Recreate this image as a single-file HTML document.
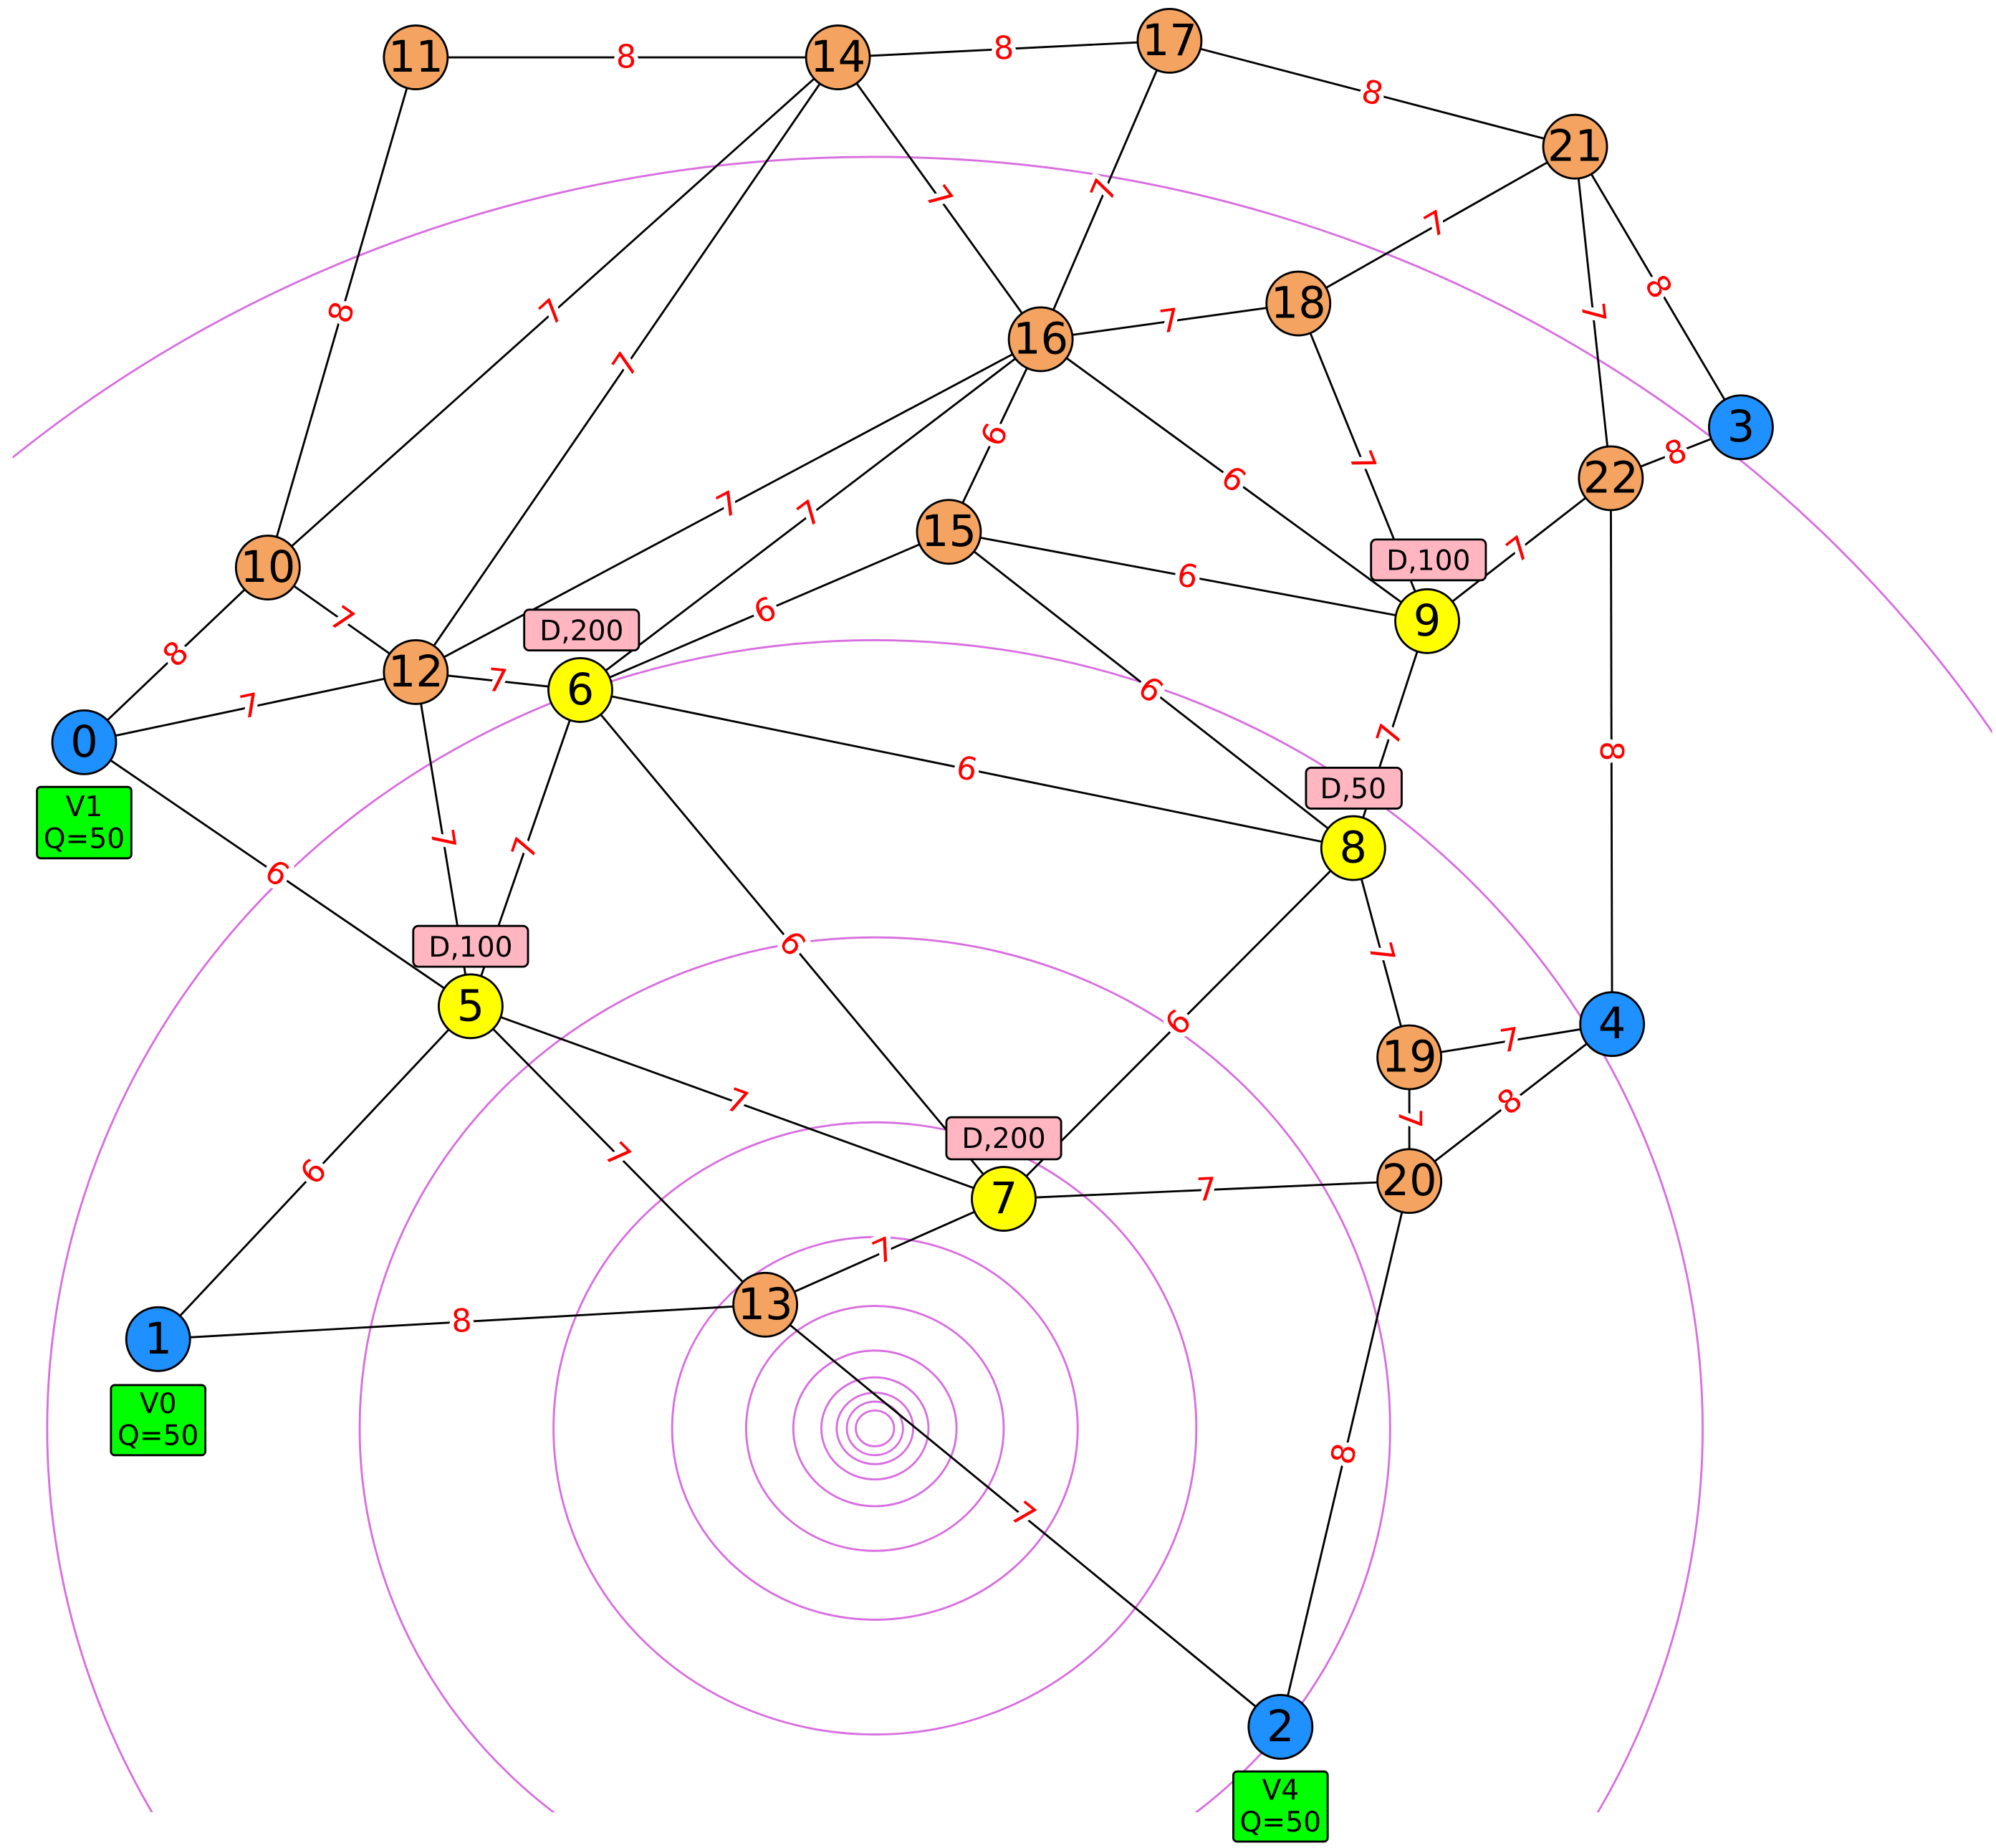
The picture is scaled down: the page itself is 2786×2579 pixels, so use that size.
<!DOCTYPE html>
<html><head><meta charset="utf-8"><style>
html,body{margin:0;padding:0;background:#fff;width:2786px;height:2579px;overflow:hidden}
svg{display:block;vertical-align:top}
text{font-family:"DejaVu Sans","Liberation Sans",sans-serif}
.e{stroke:#000;stroke-width:1.6}
.w{fill:#ff0000;font-size:25px;text-anchor:middle;dominant-baseline:central;stroke:#fff;stroke-width:7;paint-order:stroke}
.n{stroke:#000;stroke-width:1.6}
.nl{font-size:34px;text-anchor:middle;dominant-baseline:central;fill:#000}
.c{fill:none;stroke:#d86ee0;stroke-width:1.6}
.bt{font-size:22px;text-anchor:middle;fill:#000}
</style></head><body>
<svg width="2786" height="2579" viewBox="0 0 1565 1449" preserveAspectRatio="none" xmlns="http://www.w3.org/2000/svg">
<defs><clipPath id="cp"><rect x="10" y="0" width="1552" height="1421"/></clipPath></defs>
<g clip-path="url(#cp)">
<ellipse class="c" cx="686" cy="1120" rx="1047" ry="997"/>
<ellipse class="c" cx="686" cy="1120" rx="649" ry="618"/>
<ellipse class="c" cx="686" cy="1120" rx="404" ry="385"/>
<ellipse class="c" cx="686" cy="1120" rx="252" ry="240"/>
<ellipse class="c" cx="686" cy="1120" rx="159" ry="150"/>
<ellipse class="c" cx="686" cy="1120" rx="101" ry="96"/>
<ellipse class="c" cx="686" cy="1120" rx="64" ry="61"/>
<ellipse class="c" cx="686" cy="1120" rx="42" ry="40"/>
<ellipse class="c" cx="686" cy="1120" rx="30" ry="28"/>
<ellipse class="c" cx="686" cy="1120" rx="22" ry="21"/>
<ellipse class="c" cx="686" cy="1120" rx="15" ry="14"/>
</g>
<g class="e">
<line x1="326" y1="45" x2="657" y2="45"/>
<line x1="657" y1="45" x2="917" y2="32"/>
<line x1="917" y1="32" x2="1235" y2="115"/>
<line x1="326" y1="45" x2="210" y2="445"/>
<line x1="657" y1="45" x2="210" y2="445"/>
<line x1="657" y1="45" x2="326" y2="527"/>
<line x1="657" y1="45" x2="816" y2="266"/>
<line x1="917" y1="32" x2="816" y2="266"/>
<line x1="1235" y1="115" x2="1018" y2="238"/>
<line x1="1235" y1="115" x2="1263" y2="375"/>
<line x1="1235" y1="115" x2="1365" y2="335"/>
<line x1="816" y1="266" x2="1018" y2="238"/>
<line x1="816" y1="266" x2="326" y2="527"/>
<line x1="816" y1="266" x2="455" y2="541"/>
<line x1="816" y1="266" x2="744" y2="417"/>
<line x1="816" y1="266" x2="1119" y2="487"/>
<line x1="1018" y1="238" x2="1119" y2="487"/>
<line x1="1263" y1="375" x2="1365" y2="335"/>
<line x1="1263" y1="375" x2="1119" y2="487"/>
<line x1="1263" y1="375" x2="1264" y2="803"/>
<line x1="210" y1="445" x2="66" y2="582"/>
<line x1="210" y1="445" x2="326" y2="527"/>
<line x1="66" y1="582" x2="326" y2="527"/>
<line x1="326" y1="527" x2="455" y2="541"/>
<line x1="66" y1="582" x2="369" y2="789"/>
<line x1="326" y1="527" x2="369" y2="789"/>
<line x1="455" y1="541" x2="369" y2="789"/>
<line x1="744" y1="417" x2="455" y2="541"/>
<line x1="744" y1="417" x2="1119" y2="487"/>
<line x1="744" y1="417" x2="1061" y2="665"/>
<line x1="455" y1="541" x2="1061" y2="665"/>
<line x1="455" y1="541" x2="787" y2="940"/>
<line x1="1119" y1="487" x2="1061" y2="665"/>
<line x1="1061" y1="665" x2="787" y2="940"/>
<line x1="1061" y1="665" x2="1105" y2="829"/>
<line x1="1105" y1="829" x2="1264" y2="803"/>
<line x1="1105" y1="829" x2="1105" y2="926"/>
<line x1="1105" y1="926" x2="1264" y2="803"/>
<line x1="369" y1="789" x2="124" y2="1050"/>
<line x1="369" y1="789" x2="787" y2="940"/>
<line x1="369" y1="789" x2="600" y2="1023"/>
<line x1="787" y1="940" x2="1105" y2="926"/>
<line x1="787" y1="940" x2="600" y2="1023"/>
<line x1="124" y1="1050" x2="600" y2="1023"/>
<line x1="600" y1="1023" x2="1004" y2="1354"/>
<line x1="1105" y1="926" x2="1004" y2="1354"/>
</g>
<g>
<text class="w" transform="translate(491,45)">8</text>
<text class="w" transform="translate(787,38) rotate(-3)">8</text>
<text class="w" transform="translate(1076,73) rotate(15)">8</text>
<text class="w" transform="translate(268,245) rotate(-74)">8</text>
<text class="w" transform="translate(433,245) rotate(-42)">7</text>
<text class="w" transform="translate(491,286) rotate(-56)">7</text>
<text class="w" transform="translate(736,155) rotate(54)">7</text>
<text class="w" transform="translate(866,149) rotate(-67)">7</text>
<text class="w" transform="translate(1126,176) rotate(-30)">7</text>
<text class="w" transform="translate(1249,245) rotate(84)">7</text>
<text class="w" transform="translate(1300,225) rotate(59)">8</text>
<text class="w" transform="translate(917,252) rotate(-8)">7</text>
<text class="w" transform="translate(571,396) rotate(-28)">7</text>
<text class="w" transform="translate(635,403) rotate(-37)">7</text>
<text class="w" transform="translate(780,341) rotate(-64)">6</text>
<text class="w" transform="translate(967,376) rotate(36)">6</text>
<text class="w" transform="translate(1068,362) rotate(68)">7</text>
<text class="w" transform="translate(1314,355) rotate(-21)">8</text>
<text class="w" transform="translate(1191,431) rotate(-38)">7</text>
<text class="w" transform="translate(1263,589) rotate(90)">8</text>
<text class="w" transform="translate(138,513) rotate(-44)">8</text>
<text class="w" transform="translate(268,486) rotate(35)">7</text>
<text class="w" transform="translate(196,554) rotate(-12)">7</text>
<text class="w" transform="translate(390,534) rotate(6)">7</text>
<text class="w" transform="translate(217,685) rotate(34)">6</text>
<text class="w" transform="translate(347,658) rotate(81)">7</text>
<text class="w" transform="translate(412,665) rotate(-71)">7</text>
<text class="w" transform="translate(600,479) rotate(-23)">6</text>
<text class="w" transform="translate(931,452) rotate(11)">6</text>
<text class="w" transform="translate(902,541) rotate(38)">6</text>
<text class="w" transform="translate(758,603) rotate(12)">6</text>
<text class="w" transform="translate(621,740) rotate(50)">6</text>
<text class="w" transform="translate(1090,576) rotate(-72)">7</text>
<text class="w" transform="translate(924,802) rotate(-45)">6</text>
<text class="w" transform="translate(1083,747) rotate(75)">7</text>
<text class="w" transform="translate(1184,816) rotate(-9)">7</text>
<text class="w" transform="translate(1105,877) rotate(90)">7</text>
<text class="w" transform="translate(1184,864) rotate(-38)">8</text>
<text class="w" transform="translate(246,919) rotate(-47)">6</text>
<text class="w" transform="translate(578,864) rotate(20)">7</text>
<text class="w" transform="translate(484,906) rotate(45)">7</text>
<text class="w" transform="translate(946,933) rotate(-3)">7</text>
<text class="w" transform="translate(693,981) rotate(-24)">7</text>
<text class="w" transform="translate(362,1036) rotate(-3)">8</text>
<text class="w" transform="translate(802,1188) rotate(39)">7</text>
<text class="w" transform="translate(1054,1140) rotate(-77)">8</text>
</g>
<g>
<circle class="n" cx="66" cy="582" r="25" fill="#1e90ff"/><text class="nl" x="66" y="582">0</text>
<circle class="n" cx="124" cy="1050" r="25" fill="#1e90ff"/><text class="nl" x="124" y="1050">1</text>
<circle class="n" cx="1004" cy="1354" r="25" fill="#1e90ff"/><text class="nl" x="1004" y="1354">2</text>
<circle class="n" cx="1365" cy="335" r="25" fill="#1e90ff"/><text class="nl" x="1365" y="335">3</text>
<circle class="n" cx="1264" cy="803" r="25" fill="#1e90ff"/><text class="nl" x="1264" y="803">4</text>
<circle class="n" cx="369" cy="789" r="25" fill="#ffff00"/><text class="nl" x="369" y="789">5</text>
<circle class="n" cx="455" cy="541" r="25" fill="#ffff00"/><text class="nl" x="455" y="541">6</text>
<circle class="n" cx="787" cy="940" r="25" fill="#ffff00"/><text class="nl" x="787" y="940">7</text>
<circle class="n" cx="1061" cy="665" r="25" fill="#ffff00"/><text class="nl" x="1061" y="665">8</text>
<circle class="n" cx="1119" cy="487" r="25" fill="#ffff00"/><text class="nl" x="1119" y="487">9</text>
<g fill="#f4a460">
<circle class="n" cx="210" cy="445" r="25"/><circle class="n" cx="326" cy="45" r="25"/>
<circle class="n" cx="326" cy="527" r="25"/><circle class="n" cx="600" cy="1023" r="25"/>
<circle class="n" cx="657" cy="45" r="25"/><circle class="n" cx="744" cy="417" r="25"/>
<circle class="n" cx="816" cy="266" r="25"/><circle class="n" cx="917" cy="32" r="25"/>
<circle class="n" cx="1018" cy="238" r="25"/><circle class="n" cx="1105" cy="829" r="25"/>
<circle class="n" cx="1105" cy="926" r="25"/><circle class="n" cx="1235" cy="115" r="25"/>
<circle class="n" cx="1263" cy="375" r="25"/>
</g>
<text class="nl" x="210" y="445">10</text><text class="nl" x="326" y="45">11</text>
<text class="nl" x="326" y="527">12</text><text class="nl" x="600" y="1023">13</text>
<text class="nl" x="657" y="45">14</text><text class="nl" x="744" y="417">15</text>
<text class="nl" x="816" y="266">16</text><text class="nl" x="917" y="32">17</text>
<text class="nl" x="1018" y="238">18</text><text class="nl" x="1105" y="829">19</text>
<text class="nl" x="1105" y="926">20</text><text class="nl" x="1235" y="115">21</text>
<text class="nl" x="1263" y="375">22</text>
</g>
<g stroke="#000" stroke-width="1.6">
<rect x="1075" y="423" width="90" height="32" rx="4" fill="#ffb6c1"/>
<rect x="411" y="478" width="90" height="32" rx="4" fill="#ffb6c1"/>
<rect x="1024" y="602" width="75" height="32" rx="4" fill="#ffb6c1"/>
<rect x="324" y="726" width="90" height="32" rx="4" fill="#ffb6c1"/>
<rect x="742" y="876" width="90" height="33" rx="4" fill="#ffb6c1"/>
<rect x="29" y="617" width="74" height="56" rx="3" fill="#00ff00"/>
<rect x="87" y="1086" width="74" height="55" rx="3" fill="#00ff00"/>
<rect x="967" y="1389" width="74" height="55" rx="3" fill="#00ff00"/>
</g>
<g class="bt">
<text x="1120" y="447">D,100</text>
<text x="456" y="502">D,200</text>
<text x="1061" y="626">D,50</text>
<text x="369" y="750">D,100</text>
<text x="787" y="900">D,200</text>
<text x="66" y="640">V1</text><text x="66" y="665">Q=50</text>
<text x="124" y="1108">V0</text><text x="124" y="1133">Q=50</text>
<text x="1004" y="1411">V4</text><text x="1004" y="1436">Q=50</text>
</g>
</svg>
</body></html>
